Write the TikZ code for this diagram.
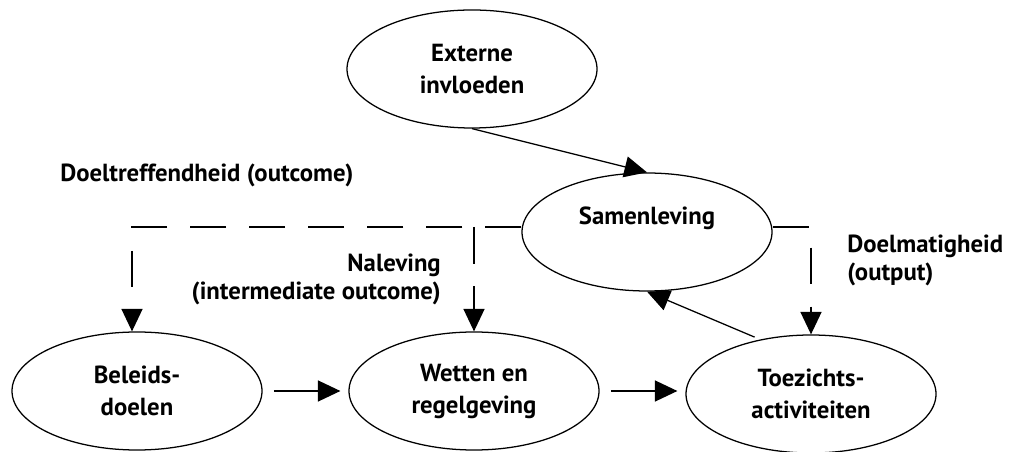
\documentclass[tikz,border=0pt]{standalone}
\usepackage{fontspec}
\setmainfont{PT Sans}
\usetikzlibrary{shapes.geometric,arrows.meta}
\tikzstyle{blob} = [ellipse, draw=black, line width=0.9pt, fill=white, minimum width=6.25cm, minimum height=2.95cm, inner sep=0pt, align=center, font=\bfseries\fontsize{17.6}{22.8}\selectfont]
\tikzstyle{lbl} = [inner sep=0pt, font=\bfseries\fontsize{17.6}{20}\selectfont]
\tikzstyle{pijl} = [-{Triangle[length=16pt,width=15pt]}, line width=0.9pt]
\tikzstyle{stippel} = [pijl, dash pattern=on 26pt off 16pt]

\begin{document}
\begin{tikzpicture}
    \useasboundingbox (0,0) rectangle (25.35,-11.3);

    \node (ext) [blob] at (11.8,-1.725) {Externe\\invloeden};
    \node (sam) [blob] at (16.175,-5.8) {Samenleving\\\mbox{}};
    \node (bel) [blob] at (3.425,-9.775) {Beleids-\\doelen};
    \node (wet) [blob] at (11.85,-9.775) {Wetten en\\regelgeving};
    \node (toe) [blob] at (20.275,-9.85) {Toezichts-\\activiteiten};

    \node (doeltr) [lbl, anchor=west] at (1.5,-4.375) {Doeltreffendheid (outcome)};
    \node (nalev) [lbl, anchor=east, align=right] at (11.025,-6.975) {Naleving\\(intermediate outcome)};
    \node (doelm) [lbl, anchor=west, align=left] at (21.175,-6.5) {Doelmatigheid\\(output)};

    \coordinate (hoek) at (3.3,-5.675);

    \draw [pijl] (ext.south) -- (sam.north);
    \draw [pijl, shorten <=0.15cm] (toe.133) -- (sam.south);
    \draw [pijl, shorten <=0.28cm, shorten >=0.2cm] (bel.east) -- (wet.west);
    \draw [pijl, shorten <=0.28cm, shorten >=0.2cm] (wet.east) -- (wet.east -| toe.west);

    \draw [stippel] (sam.west |- hoek) -- (hoek) -- (hoek |- bel.north);
    \draw [stippel] (wet.north |- hoek) -- (wet.north);
    \draw [stippel] (sam.east |- hoek) -- (toe.north |- hoek) -- (toe.north);
\end{tikzpicture}
\end{document}
